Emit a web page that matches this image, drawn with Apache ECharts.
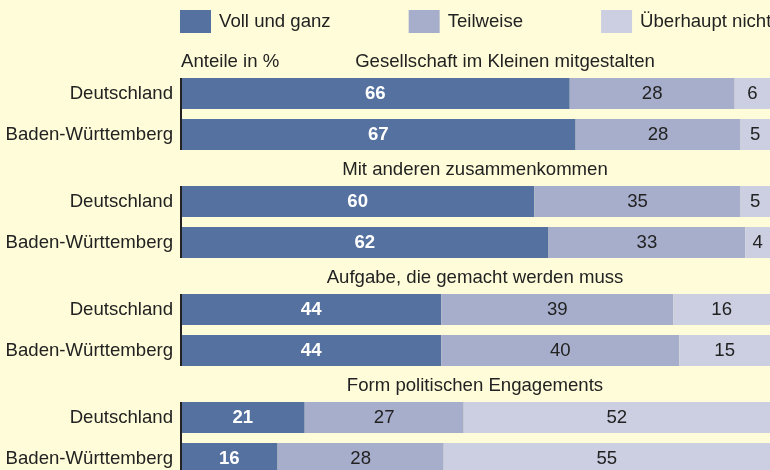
<!DOCTYPE html>
<html>
<head>
<meta charset="utf-8">
<script src="https://cdn.jsdelivr.net/npm/echarts@6/dist/echarts.min.js"></script>
<style>
  html, body { margin: 0; padding: 0; background: #FFFDD9; overflow: hidden; }
  /* slightly taller than the window so the last bar runs off the bottom edge */
  #chart { width: 770px; height: 480px; }
</style>
</head>
<body>
<div id="chart"></div>
<script>
const categories = ["Deutschland", "Baden-Württemberg"]
const groupTitles = [
  "Gesellschaft im Kleinen mitgestalten",
  "Mit anderen zusammenkommen",
  "Aufgabe, die gemacht werden muss",
  "Form politischen Engagements",
]
const seriesNames = ["Voll und ganz", "Teilweise", "Überhaupt nicht"]
// shares per group: [Deutschland, Baden-Württemberg]
const vollUndGanz = [[66, 67], [60, 62.4], [44.2, 44.2], [21, 16.4]]
const teilweise = [[28, 28], [35, 33.4], [39.4, 40.4], [27, 28.2]]
const ueberhauptNicht = [[6, 5], [5, 4.2], [16.4, 15.4], [52, 55.4]]

const colors = ["#55719F", "#A7AECB", "#CBCFE1"]
const font = "'Liberation Sans', Arial, sans-serif"
const textColor = "#222"
const fontSize = 18.6

const chart = echarts.init(document.getElementById("chart"))

const gridLeft = 181
const firstTop = 73
const groupStep = 108
const gridHeight = 82

const grids = []
const xAxes = []
const yAxes = []
const series = []
const graphics = []
const titleCenters = [505, 475, 475, 475]

groupTitles.forEach((title, i) => {
  const top = firstTop + i * groupStep
  grids.push({ left: gridLeft, right: 0, top: top, height: gridHeight })
  xAxes.push({
    type: "value", gridIndex: i, min: 0, max: 100, show: false,
  })
  yAxes.push({
    type: "category", gridIndex: i, data: categories, inverse: true,
    axisLine: { show: false },
    axisTick: { show: false },
    axisLabel: { color: textColor, fontSize: fontSize, fontFamily: font, margin: 8 },
  })
  const sets = [vollUndGanz[i], teilweise[i], ueberhauptNicht[i]]
  sets.forEach((values, k) => {
    series.push({
      name: seriesNames[k],
      type: "bar",
      xAxisIndex: i,
      yAxisIndex: i,
      stack: "g" + i,
      barWidth: 31,
      data: values,
      itemStyle: { color: colors[k] },
      label: {
        show: true,
        position: "inside",
        formatter: (p) => Math.round(p.value),
        fontSize: fontSize,
        fontFamily: font,
        color: k === 0 ? "#fff" : textColor,
        fontWeight: k === 0 ? "bold" : "normal",
      },
      emphasis: { disabled: true },
    })
  })
  // group heading
  graphics.push({
    type: "text",
    x: titleCenters[i],
    y: top - 11,
    style: {
      text: title, align: "center", verticalAlign: "middle",
      fontSize: fontSize, fontFamily: font, fill: textColor,
    },
  })
  // vertical axis line spanning the two bars
  graphics.push({
    type: "line",
    shape: { x1: gridLeft, y1: top + 5, x2: gridLeft, y2: top + gridHeight - 5 },
    style: { stroke: textColor, lineWidth: 2 },
    z: 10,
  })
})

graphics.push({
  type: "text",
  x: 181,
  y: 62,
  style: {
    text: "Anteile in %", align: "left", verticalAlign: "middle",
    fontSize: fontSize, fontFamily: font, fill: textColor,
  },
})

const option = {
  backgroundColor: "#FFFDD9",
  animation: false,
  legend: {
    data: seriesNames,
    left: 180,
    top: 10,
    width: 640,
    padding: 0,
    itemWidth: 31,
    itemHeight: 23,
    itemGap: 78,
    icon: "rect",
    selectedMode: false,
    textStyle: { color: textColor, fontSize: fontSize, fontFamily: font, padding: [0, 0, 0, 3] },
  },
  grid: grids,
  xAxis: xAxes,
  yAxis: yAxes,
  series: series,
  graphic: graphics,
}

chart.setOption(option)
</script>
</body>
</html>
